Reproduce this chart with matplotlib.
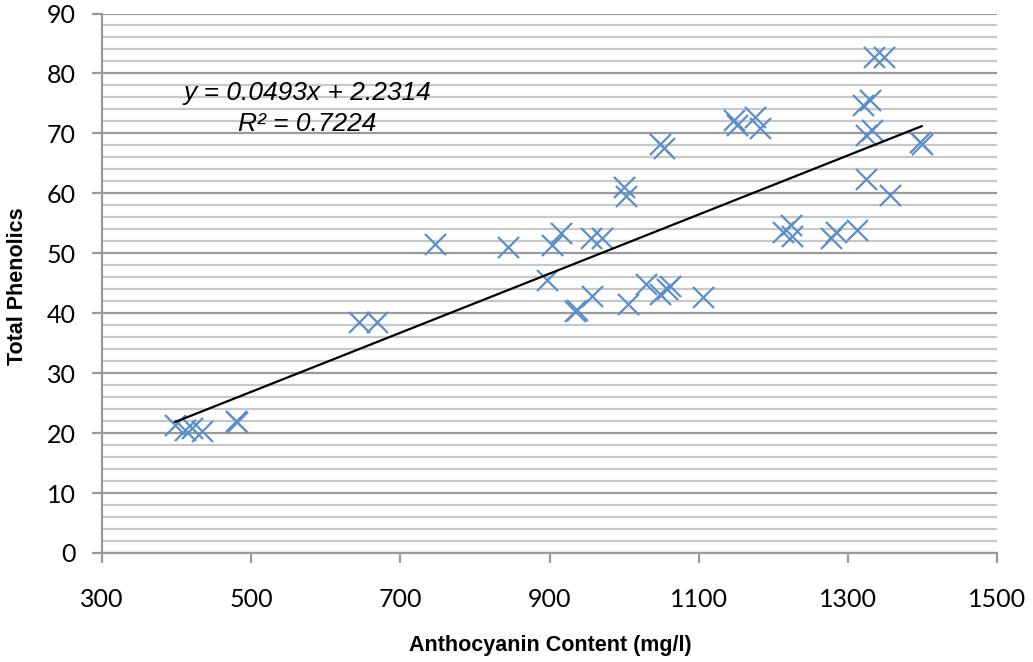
import matplotlib
matplotlib.use("Agg")
import matplotlib.pyplot as plt
import numpy as np
from matplotlib.ticker import MultipleLocator

# Data
anthocyanin = [398, 411, 421, 434, 480, 481, 645, 669, 746, 845, 897, 904, 915,
               934, 937, 956, 957, 971, 1000, 1003, 1005, 1030, 1048, 1048, 1053,
               1058, 1062, 1106, 1148, 1151, 1176, 1182, 1213, 1224, 1225, 1278,
               1284, 1312, 1321, 1330, 1325, 1332, 1325, 1357, 1335, 1349, 1397, 1399]
phenolics = [21.3, 20.5, 20.8, 20.3, 22.1, 21.8, 38.5, 38.5, 51.6, 51.0, 45.5, 51.3, 53.4,
             40.3, 40.6, 52.6, 42.8, 52.5, 61.0, 59.6, 41.6, 44.8, 43.2, 68.3, 67.6,
             44.1, 44.6, 42.7, 72.2, 71.4, 72.7, 70.9, 53.6, 54.8, 52.9, 52.5,
             53.5, 53.9, 74.8, 75.6, 69.8, 70.6, 62.4, 59.7, 82.7, 82.8, 68.6, 68.3]

trend_slope = 0.0493
trend_intercept = 2.2314
r_squared = 0.7224

x_ticks = [300, 500, 700, 900, 1100, 1300, 1500]
y_ticks = [0, 10, 20, 30, 40, 50, 60, 70, 80, 90]

fig = plt.figure(figsize=(10.33, 6.62), dpi=100)
ax = fig.add_axes([102/1033, 1 - 553/662, (997-102)/1033, (553-13.5)/662])

ax.set_xlim(300, 1500)
ax.set_ylim(0, 90)
ax.set_xticks(x_ticks)
ax.set_yticks(y_ticks)
ax.yaxis.set_minor_locator(MultipleLocator(2))

ax.grid(True, which='major', axis='y', color='#9a9a9a', linewidth=1.6, zorder=0)
ax.grid(True, which='minor', axis='y', color='#c8c8c8', linewidth=1.6, zorder=0)
ax.set_axisbelow(True)

for s in ['top', 'right']:
    ax.spines[s].set_visible(False)
for s in ['left', 'bottom']:
    ax.spines[s].set_color('#9a9a9a')
    ax.spines[s].set_linewidth(1.6)

ax.tick_params(axis='both', which='major', direction='out', length=7, width=1.6,
               color='#9a9a9a', labelsize=18)
ax.tick_params(axis='y', which='minor', length=0)
ax.tick_params(axis='y', pad=12)
ax.tick_params(axis='x', pad=18)
for lab in ax.get_xticklabels() + ax.get_yticklabels():
    lab.set_family('Lato')

ax.scatter(anthocyanin, phenolics, marker='x', s=230, color='#5b8fc9',
           linewidths=1.6, zorder=3)

xs = np.array([min(anthocyanin), max(anthocyanin)])
ax.plot(xs, trend_slope * xs + trend_intercept, color='black', linewidth=1.6, zorder=4)

ax.text(575, 76.7, f"y = {trend_slope}x + {trend_intercept}", ha='center', va='center',
        fontsize=19, style='italic', family='Liberation Sans')
ax.text(575, 71.5, f"R² = {r_squared}", ha='center', va='center',
        fontsize=19, style='italic', family='Liberation Sans')

fig.text(18/1033, 1 - 286/662, "Total Phenolics", rotation=90, ha='center', va='center',
         fontsize=15.5, fontweight='bold', family='Liberation Sans')
fig.text(550/1033, 1 - 645/662, "Anthocyanin Content (mg/l)", ha='center', va='center',
         fontsize=15.5, fontweight='bold', family='Liberation Sans')

fig.savefig("out.png", dpi=100)
